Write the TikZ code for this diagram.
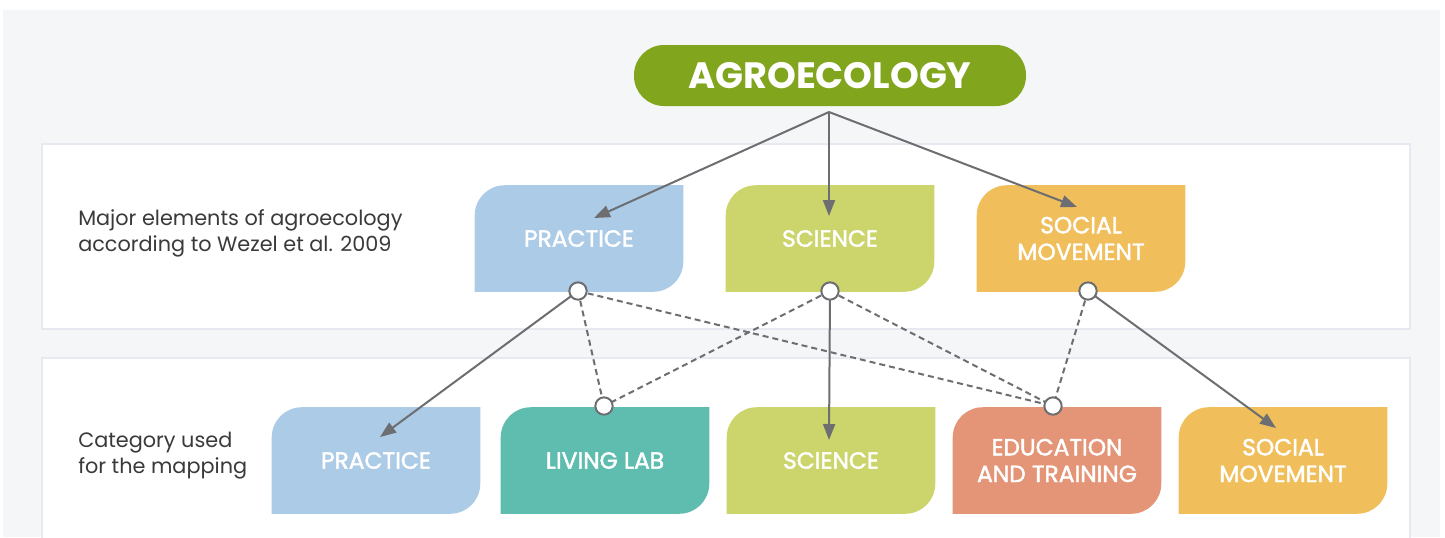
\documentclass[tikz,border=0pt]{standalone}
\usepackage{fontspec}
\newfontfamily\pop{Poppins}
\newfontfamily\popm[FakeBold=1.8]{Poppins}
\usetikzlibrary{arrows.meta,backgrounds}
\definecolor{bgpanel}{HTML}{F5F6F8}
\definecolor{panelborder}{HTML}{E6E9EF}
\definecolor{lnk}{HTML}{6D6E71}
\definecolor{agro}{HTML}{82A51E}
\definecolor{cprac}{HTML}{ACCBE6}
\definecolor{csci}{HTML}{CCD56B}
\definecolor{csoc}{HTML}{F0BF5C}
\definecolor{cliv}{HTML}{5FBDB0}
\definecolor{cedu}{HTML}{E49577}
\definecolor{ltext}{HTML}{3A3A3A}
\newcommand{\leafbox}[2]{%
  \fill[#2] (#1.south west) -- ([yshift=-22.5pt]#1.north west)
    arc[start angle=180,end angle=90,radius=22.5pt] -- (#1.north east)
    -- ([yshift=22.5pt]#1.south east)
    arc[start angle=0,end angle=-90,radius=22.5pt] -- cycle;}
\tikzset{
  cat/.style={minimum width=156pt,minimum height=79.5pt,inner sep=0pt,align=center,
    text=white,font=\popm\fontsize{17.5}{20}\selectfont},
  side/.style={anchor=west,align=left,inner sep=0pt,text=ltext,font=\pop\fontsize{15.6}{19.5}\selectfont},
  link/.style={draw=lnk,line width=1.5pt},
  arr/.style={link,-{Triangle[length=12pt,width=9pt]}},
  dlink/.style={link,dash pattern=on 4.5pt off 3pt},
  dot/.style={circle,draw=lnk,line width=1.5pt,fill=white,minimum size=13pt,inner sep=0pt},
  panel/.style={fill=white,draw=panelborder,line width=2pt}
}
\begin{document}
\begin{tikzpicture}[x=0.75pt,y=-0.75pt]
\useasboundingbox (0,0) rectangle (1445,537);
\begin{scope}[on background layer]
  \fill[white] (0,0) rectangle (1445,537);
  \fill[bgpanel] (3,10) rectangle (1440,537);
  \draw[panel] (42,144) rectangle (1410,329);
  \draw[panel] (42,358) rectangle (1410,545);
\end{scope}
% nodes
\node[fill=agro,rounded corners=22.5pt,minimum width=294pt,minimum height=45.75pt,inner sep=0pt,
  text=white,font=\pop\bfseries\fontsize{27.5}{30}\selectfont] (agro) at (830,75.5) {AGROECOLOGY};
\node[side] (lab1) at (78,233) {Major elements of agroecology\\according to Wezel et al. 2009};
\node[side] (lab2) at (78,456) {Category used\\for the mapping};
\node[cat] (prac1) at (579,238.5) {PRACTICE};
\node[cat] (sci1) at (830,238.5) {SCIENCE};
\node[cat] (soc1) at (1081,238.5) {SOCIAL\\MOVEMENT};
\node[cat] (prac2) at (376,460.5) {PRACTICE};
\node[cat] (liv) at (605,460.5) {LIVING LAB};
\node[cat] (sci2) at (831,460.5) {SCIENCE};
\node[cat] (edu) at (1057,460.5) {EDUCATION\\AND TRAINING};
\node[cat] (soc2) at (1283,460.5) {SOCIAL\\MOVEMENT};
\begin{scope}[on background layer]
  \leafbox{prac1}{cprac}
  \leafbox{sci1}{csci}
  \leafbox{soc1}{csoc}
  \leafbox{prac2}{cprac}
  \leafbox{liv}{cliv}
  \leafbox{sci2}{csci}
  \leafbox{edu}{cedu}
  \leafbox{soc2}{csoc}
\end{scope}
% coordinates
\coordinate (hub) at (829,112);
\coordinate (t1) at (594,218);
\coordinate (t2) at (829,216);
\coordinate (t3) at (1077,207);
\coordinate (b1) at (380,437);
\coordinate (b2) at (829,440);
\coordinate (b3) at (1276,428);
\coordinate (p1) at (578,291);
\coordinate (p2) at (830,291);
\coordinate (p3) at (1088,291);
\coordinate (q1) at (604,406);
\coordinate (q2) at (1053,406);
% links
\draw[arr] (hub) -- (t1);
\draw[arr] (hub) -- (t2);
\draw[arr] (hub) -- (t3);
\draw[arr] (p1) -- (b1);
\draw[arr] (p2) -- (b2);
\draw[arr] (p3) -- (b3);
\draw[dlink] (p1) -- (q1);
\draw[dlink] (p1) -- (q2);
\draw[dlink] (p2) -- (q1);
\draw[dlink] (p2) -- (q2);
\draw[dlink] (p3) -- (q2);
% dots
\node[dot] (d1) at (p1) {};
\node[dot] (d2) at (p2) {};
\node[dot] (d3) at (p3) {};
\node[dot] (d4) at (q1) {};
\node[dot] (d5) at (q2) {};
\end{tikzpicture}
\end{document}
